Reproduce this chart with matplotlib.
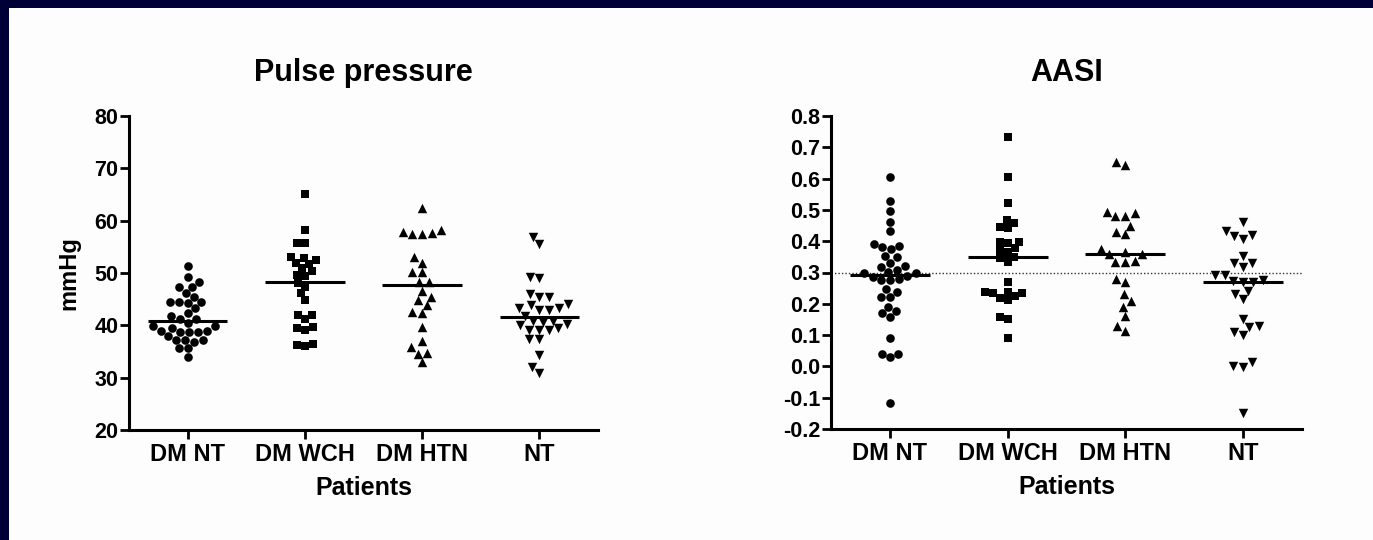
import matplotlib.pyplot as plt
import seaborn as sns
from matplotlib.patches import Rectangle

plt.rcParams['font.family'] = ['Liberation Sans', 'DejaVu Sans']
plt.rcParams['font.weight'] = 'bold'
plt.rcParams['axes.unicode_minus'] = False

groups = ['DM NT', 'DM WCH', 'DM HTN', 'NT']
markers = ['o', 's', '^', 'v']
msizes = [6.2, 5.6, 6.8, 6.8]

# Pulse pressure (mmHg)
pp_dm_nt = [51.4, 49.2, 48.3, 47.4, 47.4, 46.2, 45.5, 44.5, 44.5, 44.5, 44.3, 43.3,
            42.3, 41.8, 41.2, 41.2, 40.4, 39.8, 39.8, 39.5, 39.0, 39.0, 38.7, 38.7,
            38.7, 38.0, 37.2, 37.2, 37.2, 36.8, 35.6, 35.6, 33.9]
pp_dm_wch = [65.1, 58.2, 55.7, 55.7, 53.1, 52.8, 52.4, 51.9, 51.7, 50.9, 50.3, 49.6,
             49.5, 48.1, 47.4, 46.1, 44.8, 42.0, 42.0, 41.3, 39.6, 39.4, 39.1, 36.5,
             36.2, 36.0]
pp_dm_htn = [62.4, 58.2, 57.9, 57.6, 57.5, 57.4, 53.1, 52.0, 50.1, 50.1, 48.3, 48.3,
             46.6, 45.5, 44.8, 43.9, 42.5, 42.3, 39.6, 37.1, 35.9, 34.7, 34.5, 32.9]
pp_nt = [56.9, 55.5, 49.3, 49.1, 46.0, 45.5, 45.5, 44.1, 43.9, 43.3, 43.3, 42.9,
         42.9, 41.8, 40.9, 40.9, 40.7, 40.3, 40.1, 39.4, 39.2, 39.1, 39.1, 37.3,
         37.3, 34.3, 32.1, 30.8]
pp_lines = [40.8, 48.2, 47.7, 41.6]

# AASI
aasi_dm_nt = [0.606, 0.529, 0.496, 0.462, 0.433, 0.391, 0.385, 0.380, 0.375, 0.354,
              0.349, 0.331, 0.322, 0.319, 0.308, 0.303, 0.297, 0.297, 0.290, 0.287,
              0.279, 0.276, 0.276, 0.246, 0.239, 0.223, 0.221, 0.191, 0.178, 0.170,
              0.157, 0.090, 0.040, 0.040, 0.029, -0.118]
aasi_dm_wch = [0.732, 0.606, 0.521, 0.468, 0.457, 0.446, 0.441, 0.398, 0.398, 0.393,
               0.377, 0.372, 0.366, 0.350, 0.345, 0.335, 0.271, 0.239, 0.239, 0.235,
               0.233, 0.225, 0.218, 0.212, 0.159, 0.151, 0.092]
aasi_dm_htn = [0.652, 0.643, 0.494, 0.489, 0.481, 0.481, 0.450, 0.428, 0.423, 0.375,
               0.366, 0.359, 0.359, 0.338, 0.335, 0.333, 0.278, 0.271, 0.231, 0.209,
               0.191, 0.162, 0.130, 0.113]
aasi_nt = [0.460, 0.434, 0.420, 0.417, 0.406, 0.354, 0.329, 0.329, 0.319, 0.292,
           0.292, 0.276, 0.274, 0.271, 0.271, 0.242, 0.230, 0.215, 0.150, 0.129,
           0.125, 0.109, 0.100, 0.015, 0.001, -0.001, -0.150]
aasi_lines = [0.292, 0.351, 0.360, 0.270]
aasi_ref = 0.3


def draw_panel(ax, data, lines):
    for i, vals in enumerate(data):
        sns.swarmplot(x=[groups[i]] * len(vals), y=vals, order=groups,
                      marker=markers[i], size=msizes[i], color='black', ax=ax)
        ax.hlines(lines[i], i - 0.34, i + 0.34, color='black', lw=2.2, zorder=5)
    ax.set_xlim(-0.5, 3.5)
    ax.set_facecolor('none')
    ax.spines['top'].set_visible(False)
    ax.spines['right'].set_visible(False)
    ax.spines['left'].set_linewidth(2.2)
    ax.spines['bottom'].set_linewidth(2.2)
    ax.tick_params(axis='both', width=2, length=6.5, direction='out')
    ax.tick_params(axis='x', labelsize=17, pad=3)
    ax.tick_params(axis='y', labelsize=15.5, pad=1)
    ax.set_xlabel('Patients', fontsize=18, fontweight='bold', labelpad=7)


fig = plt.figure(figsize=(13.73, 5.4), dpi=100, facecolor='#000038')
fig.add_artist(Rectangle((9 / 1373, 0), 1, (540 - 8) / 540, transform=fig.transFigure,
                         facecolor='#fdfdfd', edgecolor='none', zorder=-5))

ax1 = fig.add_axes([129 / 1373, 1 - 430 / 540, 469 / 1373, 314 / 540])
draw_panel(ax1, [pp_dm_nt, pp_dm_wch, pp_dm_htn, pp_nt], pp_lines)
ax1.set_ylim(20, 80)
ax1.set_yticks(range(20, 81, 10))
ax1.set_ylabel('mmHg', fontsize=17, fontweight='bold', labelpad=10)
ax1.set_title('Pulse pressure', fontsize=22, fontweight='bold', pad=25)

ax2 = fig.add_axes([831 / 1373, 1 - 429 / 540, 471 / 1373, 313 / 540])
draw_panel(ax2, [aasi_dm_nt, aasi_dm_wch, aasi_dm_htn, aasi_nt], aasi_lines)
ax2.axhline(aasi_ref, color='#333333', lw=1, ls=(0, (1, 1.5)), zorder=1)
ax2.set_ylim(-0.2, 0.8)
ax2.set_yticks([x / 10 for x in range(-2, 9)])
ax2.set_yticklabels(['%.1f' % (x / 10) for x in range(-2, 9)])
ax2.set_ylabel('')
ax2.set_title('AASI', fontsize=22, fontweight='bold', pad=25)

fig.savefig('out.png', dpi=100, facecolor=fig.get_facecolor())
